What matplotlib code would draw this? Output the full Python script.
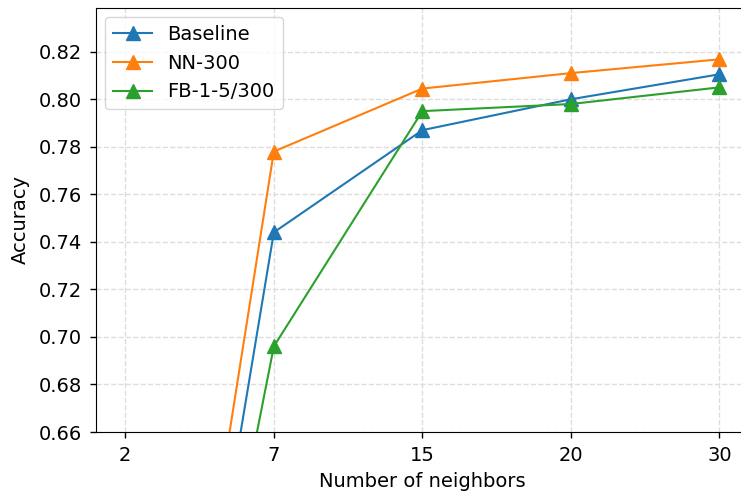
import matplotlib
matplotlib.use("Agg")
import matplotlib.pyplot as plt

neighbors = ["2", "7", "15", "20", "30"]
baseline = [0.368, 0.744, 0.787, 0.800, 0.8105]
nn_300 = [0.382, 0.778, 0.8045, 0.811, 0.8168]
fb_1_5_300 = [0.378, 0.696, 0.795, 0.798, 0.805]

fig = plt.figure(figsize=(7.41, 4.94), dpi=100)
ax = fig.add_axes([0.129, 0.1255, 0.882, 0.8593])

idx = range(len(neighbors))
ax.plot(idx, baseline, marker="^", markersize=10, linewidth=1.5, color="#1f77b4", label="Baseline")
ax.plot(idx, nn_300, marker="^", markersize=10, linewidth=1.5, color="#ff7f0e", label="NN-300")
ax.plot(idx, fb_1_5_300, marker="^", markersize=10, linewidth=1.5, color="#2ca02c", label="FB-1-5/300")

ax.set_xticks(list(idx))
ax.set_xticklabels(neighbors, fontsize=14)
ax.set_xlim(-0.2, 4.2)
ax.set_ylim(0.66, 0.8386)
ax.set_yticks([0.66, 0.68, 0.70, 0.72, 0.74, 0.76, 0.78, 0.80, 0.82])
ax.set_yticklabels([f"{v:.2f}" for v in ax.get_yticks()], fontsize=14)
ax.tick_params(length=4.5, width=1, pad=5.5)
ax.grid(True, linestyle="--", color="#dddddd", linewidth=1)
ax.set_xlabel("Number of neighbors", fontsize=14, labelpad=5)
ax.set_ylabel("Accuracy", fontsize=14, labelpad=6)
ax.legend(loc="upper left", fontsize=14)

fig.savefig("out.png", dpi=100)
